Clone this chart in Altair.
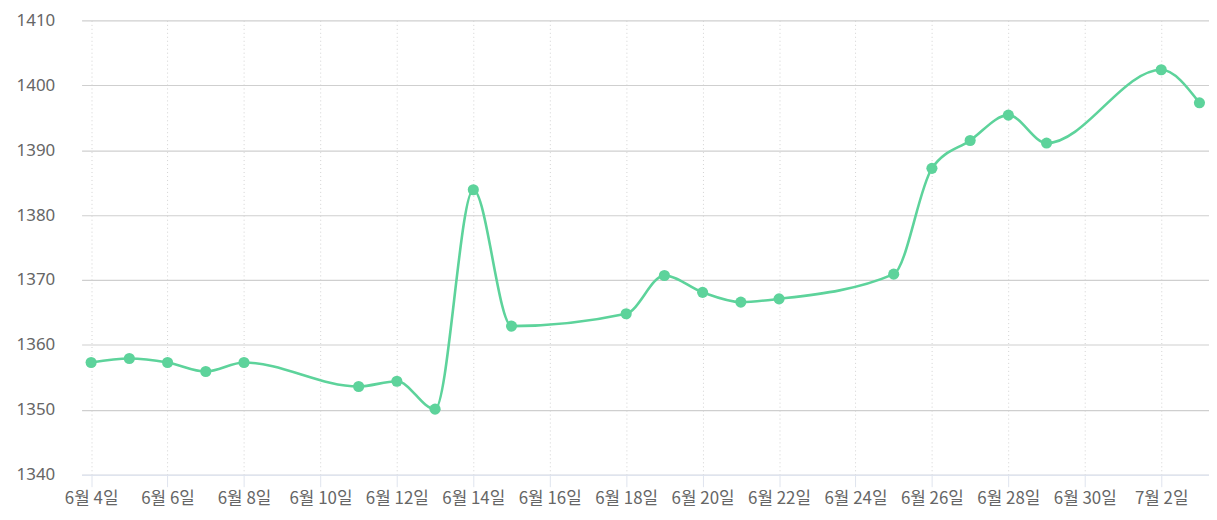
import altair as alt
import pandas as pd

dates = ["2024-06-04", "2024-06-05", "2024-06-06", "2024-06-07", "2024-06-08",
         "2024-06-11", "2024-06-12", "2024-06-13", "2024-06-14", "2024-06-15",
         "2024-06-18", "2024-06-19", "2024-06-20", "2024-06-21", "2024-06-22",
         "2024-06-25", "2024-06-26", "2024-06-27", "2024-06-28", "2024-06-29",
         "2024-07-02", "2024-07-03"]
rates = [1357.3, 1357.9, 1357.3, 1355.9, 1357.3,
         1353.6, 1354.4, 1350.1, 1383.9, 1362.9,
         1364.8, 1370.7, 1368.1, 1366.6, 1367.1,
         1370.9, 1387.2, 1391.5, 1395.4, 1391.1,
         1402.4, 1397.3]
tick_dates = ["2024-06-04", "2024-06-06", "2024-06-08", "2024-06-10", "2024-06-12",
              "2024-06-14", "2024-06-16", "2024-06-18", "2024-06-20", "2024-06-22",
              "2024-06-24", "2024-06-26", "2024-06-28", "2024-06-30", "2024-07-02"]
y_ticks = [1340, 1350, 1360, 1370, 1380, 1390, 1400, 1410]

df = pd.DataFrame({"date": dates, "rate": rates})

FONT = "Noto Sans CJK KR"
GREEN = "#5dd39b"

x_enc = alt.X(
    "date:T",
    scale=alt.Scale(
        type="utc",
        domain=[alt.DateTime(year=2024, month=6, date=3, hours=18, utc=True),
                alt.DateTime(year=2024, month=7, date=3, hours=6, utc=True)],
    ),
    axis=alt.Axis(
        title=None,
        values=[alt.DateTime(year=int(d[:4]), month=int(d[5:7]), date=int(d[8:]), utc=True)
                for d in tick_dates],
        labelExpr="utcFormat(datum.value, '%-m') + '월 ' + utcFormat(datum.value, '%-d') + '일'",
        labelOverlap=False,
        labelFont=FONT,
        labelFontSize=17,
        labelColor="#666666",
        labelPadding=4,
        tickSize=12,
        tickColor="#dfe4ee",
        domainColor="#dfe4ee",
        domainWidth=1.5,
        grid=True,
        gridColor="#d2d2d2",
        gridDash=[1, 3],
        gridWidth=1,
    ),
)

y_enc = alt.Y(
    "rate:Q",
    scale=alt.Scale(domain=[1340, 1410], nice=False, zero=False),
    axis=alt.Axis(
        title=None,
        values=y_ticks,
        format="d",
        labelFont="Noto Sans",
        labelFontSize=17,
        labelColor="#666666",
        labelPadding=27,
        minExtent=74,
        maxExtent=74,
        ticks=False,
        domain=False,
        grid=True,
        gridColor="#cfcfcf",
        gridWidth=1.2,
    ),
)

base = alt.Chart(df).encode(x=x_enc, y=y_enc)

line = base.mark_line(color=GREEN, strokeWidth=2.6, interpolate="monotone")
points = base.mark_point(filled=True, color=GREEN, size=125, opacity=1)

chart = (line + points).properties(
    width=1134,
    height=457,
    padding={"left": 0, "top": 2, "right": 0, "bottom": 0},
).configure_view(stroke=None)

chart.save("out.html", embed_options={"renderer": "svg", "actions": False})
